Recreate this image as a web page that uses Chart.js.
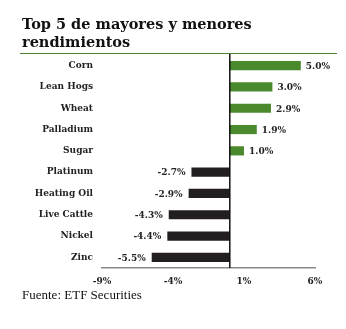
<!DOCTYPE html>
<html>
<head>
<meta charset="utf-8">
<script src="https://cdn.jsdelivr.net/npm/chart.js@4"></script>
<style>
  body { margin: 0; background: #fff; }
  #wrap { position: relative; width: 346px; height: 329px; overflow: hidden; }
  #title { position: absolute; left: 22px; top: 15px; font: bold 14.5px "DejaVu Serif", serif; line-height: 18px; color: #111; }
  #rule { position: absolute; left: 20px; top: 53px; width: 317px; height: 0; border-top: 1px solid #4f7f30; }
  #src { position: absolute; left: 22px; top: 287px; font: 13px "Liberation Serif", serif; color: #111; }
  canvas { position: absolute; left: 0; top: 0; }
</style>
</head>
<body>
<div id="wrap">
  <canvas id="c" width="346" height="329"></canvas>
  <div id="title">Top 5 de mayores y menores<br>rendimientos</div>
  <div id="rule"></div>
  <div id="src">Fuente: ETF Securities</div>
</div>
<script>
// datos
const categories = ['Corn', 'Lean Hogs', 'Wheat', 'Palladium', 'Sugar', 'Platinum', 'Heating Oil', 'Live Cattle', 'Nickel', 'Zinc'];
const returns = [5.0, 3.0, 2.9, 1.9, 1.0, -2.7, -2.9, -4.3, -4.4, -5.5];
const xTicks = [-9, -4, 1, 6];

const GREEN = '#4a8a2c';
const DARK = '#231f20';
const labelFont = { family: 'DejaVu Serif', weight: 'bold', size: 9 };

// linea vertical en cero + etiquetas de valor
const extras = {
    id: 'extras',
    afterDatasetsDraw(chart) {
        const ctx = chart.ctx;
        const x = chart.scales.x;
        const area = chart.chartArea;
        const x0 = x.getPixelForValue(0);
        ctx.save();
        ctx.strokeStyle = '#111';
        ctx.lineWidth = 1.5;
        ctx.beginPath();
        ctx.moveTo(x0, area.top - 1);
        ctx.lineTo(x0, area.bottom);
        ctx.stroke();

        ctx.font = 'bold 9px "DejaVu Serif"';
        ctx.fillStyle = '#222';
        ctx.textBaseline = 'middle';
        const meta = chart.getDatasetMeta(0);
        meta.data.forEach((bar, i) => {
            const v = returns[i];
            const txt = v.toFixed(1) + '%';
            if (v >= 0) {
                ctx.textAlign = 'left';
                ctx.fillText(txt, bar.x + 5, bar.y + 1);
            } else {
                ctx.textAlign = 'right';
                ctx.fillText(txt, bar.x - 6, bar.y + 1);
            }
        });
        ctx.restore();
    }
};

new Chart(document.getElementById('c'), {
    type: 'bar',
    data: {
        labels: categories,
        datasets: [{
            data: returns,
            backgroundColor: returns.map(v => v >= 0 ? GREEN : DARK),
            categoryPercentage: 1,
            barPercentage: 0.43,
            borderWidth: 0
        }]
    },
    plugins: [extras],
    options: {
        indexAxis: 'y',
        responsive: false,
        animation: false,
        layout: { padding: { left: 0, right: 31, top: 55, bottom: 40 } },
        plugins: { legend: { display: false }, tooltip: { enabled: false } },
        scales: {
            x: {
                min: -9,
                max: 6,
                afterBuildTicks: s => { s.ticks = xTicks.map(v => ({ value: v })); },
                afterFit: s => { s.height = 21; },
                grid: { display: false, drawTicks: false },
                border: { display: true, color: '#8a8a8a', width: 1.5 },
                ticks: {
                    padding: 8,
                    color: '#222',
                    font: labelFont,
                    callback: v => v + '%'
                }
            },
            y: {
                afterFit: s => { s.width = 102; },
                grid: { display: false, drawTicks: false },
                border: { display: false },
                ticks: { padding: 9, color: '#222', font: labelFont }
            }
        }
    }
});
</script>
</body>
</html>
